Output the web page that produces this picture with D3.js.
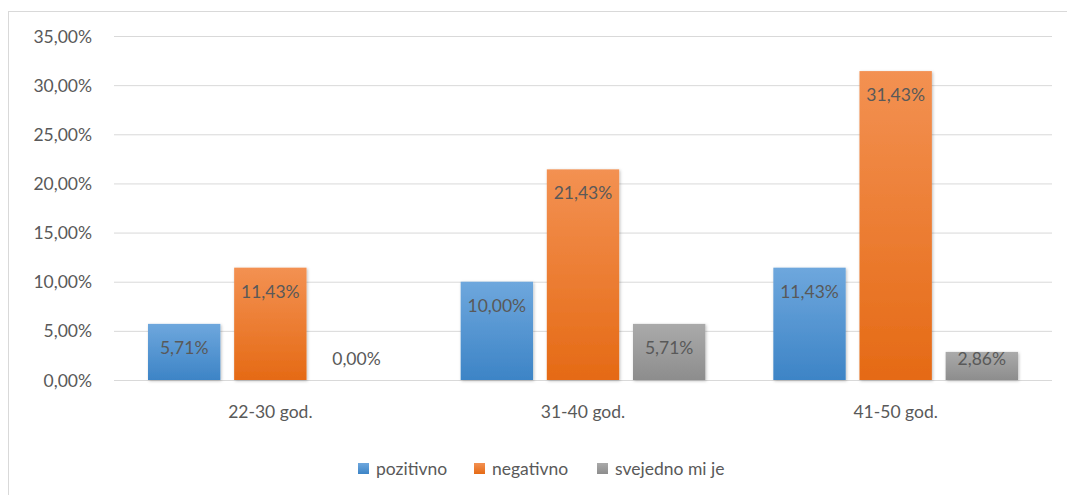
<!DOCTYPE html>
<html><head><meta charset="utf-8">
<script src="https://cdn.jsdelivr.net/npm/d3@7"></script>
<style>
html,body{margin:0;padding:0;background:#fff;}
text{font-family:Lato,"Open Sans",sans-serif;fill:#595959;}
</style></head>
<body><svg id="c" width="1067" height="495"></svg>
<script>
const categories = ["22-30 god.", "31-40 god.", "41-50 god."];
const seriesNames = ["pozitivno", "negativno", "svejedno mi je"];
const pozitivno = [5.71, 10.00, 11.43];
const negativno = [11.43, 21.43, 31.43];
const svejedno = [0.00, 5.71, 2.86];
const yTicks = [0, 5, 10, 15, 20, 25, 30, 35];

const seriesValues = [pozitivno, negativno, svejedno];
const colors = [
  {top:"#6ea7dd", bot:"#3d84c6", base:"#5b9bd5"},
  {top:"#f39152", bot:"#e56a15", base:"#ed7d31"},
  {top:"#aaaaaa", bot:"#8d8d8d", base:"#a5a5a5"}
];

const svg = d3.select("#c");
const W = 1067, H = 495;
const m = {l:114, r:1052, t:36, b:380};

// chart frame
svg.append("rect").attr("x",8.5).attr("y",11.5).attr("width",1070).attr("height",500)
  .attr("fill","#fff").attr("stroke","#d9d9d9").attr("stroke-width",1);

const defs = svg.append("defs");
colors.forEach((c,i)=>{
  const g = defs.append("linearGradient").attr("id","g"+i).attr("x1",0).attr("y1",0).attr("x2",0).attr("y2",1);
  g.append("stop").attr("offset","0%").attr("stop-color",c.top);
  g.append("stop").attr("offset","100%").attr("stop-color",c.bot);
});
const f = defs.append("filter").attr("id","sh").attr("x","-20%").attr("y","-20%").attr("width","140%").attr("height","140%");
f.append("feDropShadow").attr("dx",1).attr("dy",1).attr("stdDeviation",1.5).attr("flood-color","#000").attr("flood-opacity",0.25);

const y = d3.scaleLinear().domain([0,35]).range([m.b, m.t]);
const x0 = d3.scaleBand().domain(categories).range([m.l, m.r]).paddingInner(0).paddingOuter(0);
const x1 = d3.scaleBand().domain(seriesNames).range([34, x0.bandwidth()-34]).paddingInner(0.16).paddingOuter(0);

// grid
const yAxis = d3.axisLeft(y).tickValues(yTicks).tickSize(-(m.r-m.l))
  .tickFormat(d => d3.format(".2f")(d).replace(".", ",") + "%");
const ga = svg.append("g").attr("transform",`translate(${m.l},0)`).call(yAxis);
ga.select(".domain").remove();
ga.selectAll(".tick line").attr("stroke","#d9d9d9").attr("stroke-width",1);
ga.selectAll(".tick text").attr("x",-22).attr("font-size",17.5).attr("fill","#595959").attr("dy","0.35em");

// x axis labels
const xAxis = d3.axisBottom(x0).tickSize(0).tickPadding(26);
const gx = svg.append("g").attr("transform",`translate(0,${m.b})`).call(xAxis);
gx.select(".domain").remove();
gx.selectAll(".tick text").attr("font-size",17.5).attr("fill","#595959");

// bars
const groups = svg.append("g").selectAll("g").data(categories).join("g")
  .attr("transform", d => `translate(${x0(d)},0)`);
groups.each(function(cat, ci){
  const g = d3.select(this);
  seriesNames.forEach((s, si)=>{
    const v = seriesValues[si][ci];
    if (v > 0) {
      g.append("rect").attr("x", x1(s)).attr("width", x1.bandwidth())
        .attr("y", y(v)).attr("height", y(0)-y(v))
        .attr("fill", `url(#g${si})`).attr("filter","url(#sh)");
    }
    const ly = Math.min(y(v) + 24, y(0) - 21);
    g.append("text").attr("x", x1(s) + x1.bandwidth()/2).attr("y", ly)
      .attr("dy","0.35em").attr("text-anchor","middle").attr("font-size",17.5)
      .attr("fill","#404040")
      .text(d3.format(".2f")(v).replace(".", ",") + "%");
  });
});

// legend
const legItems = [{x:358},{x:474},{x:597}];
seriesNames.forEach((s,i)=>{
  const lg = svg.append("g").attr("transform",`translate(${legItems[i].x},463)`);
  lg.append("rect").attr("width",11).attr("height",11).attr("fill",`url(#g${i})`);
  lg.append("text").attr("x",18).attr("y",6).attr("dy","0.35em").attr("font-size",17.5).attr("fill","#595959").text(s);
});
</script></body></html>
